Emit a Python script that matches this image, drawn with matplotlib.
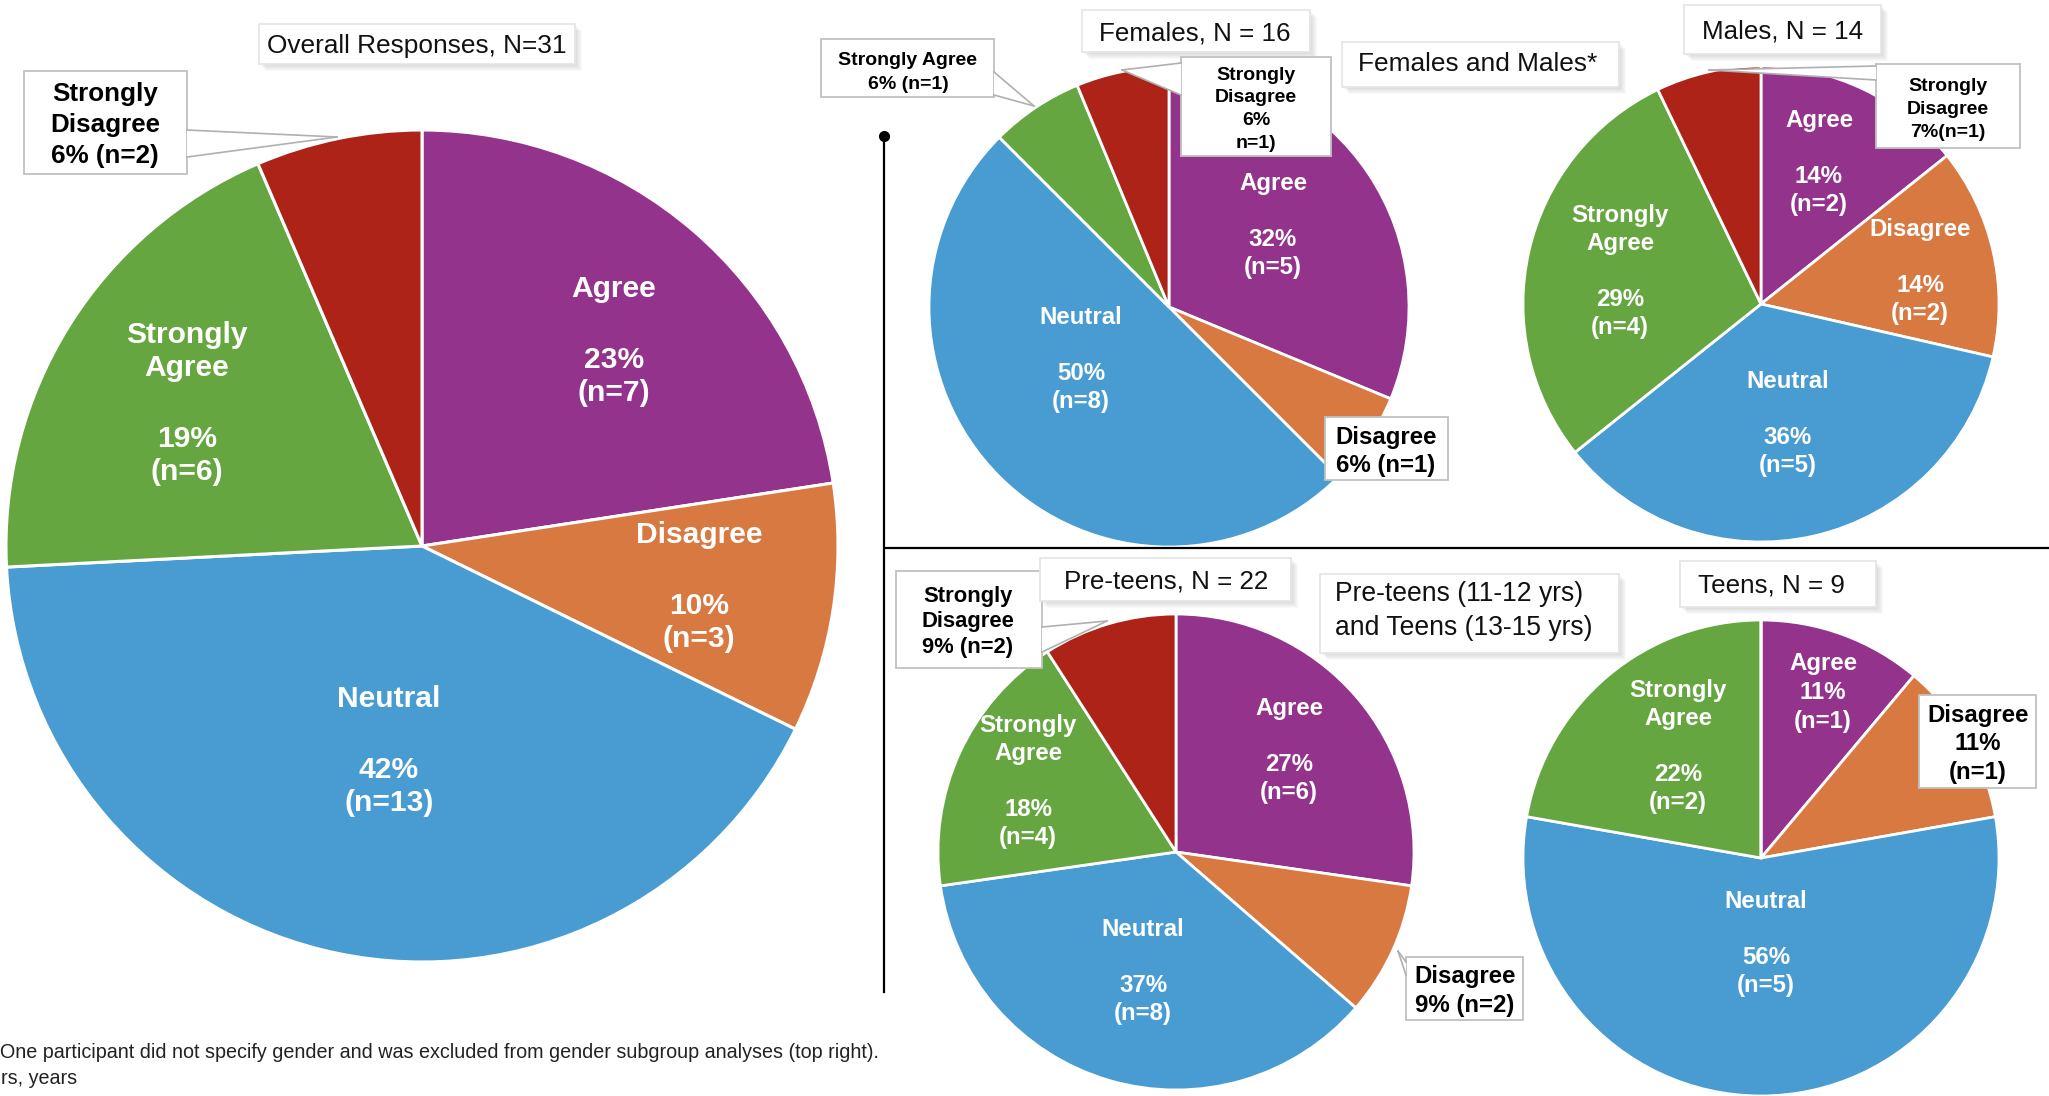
import matplotlib
matplotlib.use("Agg")
import matplotlib.pyplot as plt
from matplotlib.patches import Rectangle, Polygon

W, H = 2049, 1096
DPI = 100

categories = ["Agree", "Disagree", "Neutral", "Strongly Agree", "Strongly Disagree"]
colors = ["#93338C", "#D97942", "#499CD1", "#66A641", "#AE2318"]

overall_n = [7, 3, 13, 6, 2]
overall_pct = ["23%", "10%", "42%", "19%", "6%"]
females_n = [5, 1, 8, 1, 1]
females_pct = ["32%", "6%", "50%", "6%", "6%"]
males_n = [2, 2, 5, 4, 1]
males_pct = ["14%", "14%", "36%", "29%", "7%"]
preteens_n = [6, 2, 8, 4, 2]
preteens_pct = ["27%", "9%", "37%", "18%", "9%"]
teens_n = [1, 1, 5, 2, 0]
teens_pct = ["11%", "11%", "56%", "22%", "0%"]

titles = ["Overall Responses, N=31", "Females, N = 16", "Males, N = 14",
          "Pre-teens, N = 22", "Teens, N = 9"]
group_titles = ["Females and Males*", "Pre-teens (11-12 yrs)\nand Teens (13-15 yrs)"]
footnotes = ["One participant did not specify gender and was excluded from gender subgroup analyses (top right).",
             "rs, years"]

name_lines = {"Agree": ["Agree"], "Disagree": ["Disagree"], "Neutral": ["Neutral"],
              "Strongly Agree": ["Strongly", "Agree"], "Strongly Disagree": ["Strongly", "Disagree"]}

plt.rcParams["font.family"] = ["Liberation Sans", "DejaVu Sans"]

fig = plt.figure(figsize=(W / DPI, H / DPI), dpi=DPI)
ax = fig.add_axes([0, 0, 1, 1])


def Y(y):
    return H - y


def pt(px):
    return px * 72 / DPI


def draw_pie(values, cx, cy, r, lw=2.0):
    ax.pie(values, colors=colors, startangle=90, counterclock=False,
           center=(cx, Y(cy)), radius=r, frame=False,
           wedgeprops=dict(edgecolor="white", linewidth=lw))


def block(x, y, lines, size, color="white", step=28, gap=56, ha="center", weight="bold"):
    yy = y
    first = True
    for s in lines:
        if s == "":
            yy += gap - step
            continue
        if not first:
            yy += step
        ax.text(x, Y(yy), s, ha=ha, va="baseline", fontsize=pt(size),
                color=color, fontweight=weight, zorder=7)
        first = False


def inner(names, i, pct, n, x, y, size=24, step=28, gap=56, blank=True):
    lines = list(name_lines[names[i]])
    if blank:
        lines.append("")
    lines += [pct[i], f"(n={n[i]})"]
    block(x, y, lines, size, step=step, gap=gap)


def box(x0, y0, x1, y1, shadow=False, ec="#C0C0C0"):
    if shadow:
        for k in range(1, 8):
            ax.add_patch(Rectangle((x0 + k, Y(y1) - k), x1 - x0, y1 - y0,
                                   fc="#808080", ec="none", alpha=0.045, zorder=4))
    ax.add_patch(Rectangle((x0, Y(y1)), x1 - x0, y1 - y0, fc="white", ec=ec,
                           lw=1.3, zorder=5))


def pointer(tip, b1, b2):
    pts = [(tip[0], Y(tip[1])), (b1[0], Y(b1[1])), (b2[0], Y(b2[1]))]
    ax.add_patch(Polygon(pts, closed=True, fc="white", ec="none", zorder=5.5))
    for b in (b1, b2):
        ax.plot([b[0], tip[0]], [Y(b[1]), Y(tip[1])], color="#B0B0B0", lw=1.2, zorder=5.6)


def title_box(x0, y0, x1, y1, text, x, y, size=26, ha="center"):
    box(x0, y0, x1, y1, shadow=True, ec="#E6E6E6")
    for i, s in enumerate(text.split("\n")):
        ax.text(x, Y(y + i * 34), s, ha=ha, va="baseline", fontsize=pt(size),
                color="#111111", zorder=7)


# pies
draw_pie(overall_n, 422, 546, 416, lw=2.2)
draw_pie(females_n, 1169, 307, 240)
draw_pie(males_n, 1761, 304, 238)
draw_pie(preteens_n, 1176, 852, 238)
draw_pie(teens_n, 1761, 858, 238)

ax.set_xlim(0, W)
ax.set_ylim(0, H)
ax.set_aspect("auto")
ax.axis("off")

# overall labels
inner(categories, 0, overall_pct, overall_n, 614, 297, size=30, step=33, gap=71)
inner(categories, 1, overall_pct, overall_n, 699, 543, size=30, step=33, gap=71)
inner(categories, 2, overall_pct, overall_n, 389, 707, size=30, step=33, gap=71)
inner(categories, 3, overall_pct, overall_n, 187, 343, size=30, step=33, gap=71)

# females
inner(categories, 0, females_pct, females_n, 1273, 190)
inner(categories, 2, females_pct, females_n, 1081, 324)
# males
inner(categories, 0, males_pct, males_n, 1819, 127)
inner(categories, 1, males_pct, males_n, 1920, 236)
inner(categories, 3, males_pct, males_n, 1620, 222)
inner(categories, 2, males_pct, males_n, 1788, 388)
# pre-teens
inner(categories, 3, preteens_pct, preteens_n, 1028, 732)
inner(categories, 0, preteens_pct, preteens_n, 1289, 715)
inner(categories, 2, preteens_pct, preteens_n, 1143, 936)
# teens
inner(categories, 0, teens_pct, teens_n, 1823, 670, step=29, blank=False)
inner(categories, 3, teens_pct, teens_n, 1678, 697)
inner(categories, 2, teens_pct, teens_n, 1766, 908)

# callout boxes
box(24, 71, 187, 174)
pointer((337, 137), (187, 130), (187, 157))
block(105, 101, ["Strongly", "Disagree", f"{overall_pct[4]} (n={overall_n[4]})"], 26, "black", step=31)

box(821, 39, 994, 97)
pointer((1034, 106), (994, 72), (994, 95))
block(908, 65, ["Strongly Agree", f"{females_pct[3]} (n={females_n[3]})"], 19.5, "black", step=24)

box(1181, 57, 1331, 156)
pointer((1122, 70), (1181, 63), (1181, 95))
block(1256, 80, ["Strongly", "Disagree", females_pct[4], f"n={females_n[4]})"], 19.5, "black", step=22.5)

box(1325, 417, 1448, 480)
block(1386, 444, ["Disagree", f"{females_pct[1]} (n={females_n[1]})"], 24, "black", step=28)

box(1876, 64, 2020, 148)
pointer((1709, 70), (1876, 66), (1876, 80))
block(1948, 91, ["Strongly", "Disagree", f"{males_pct[4]}(n={males_n[4]})"], 19.5, "black", step=23)

box(896, 571, 1042, 668)
pointer((1107, 621), (1042, 627), (1042, 652))
block(968, 602, ["Strongly", "Disagree", f"{preteens_pct[4]} (n={preteens_n[4]})"], 22, "black", step=25.5)

box(1406, 957, 1523, 1020)
pointer((1398, 951), (1406, 962), (1406, 975))
block(1465, 983, ["Disagree", f"{preteens_pct[1]} (n={preteens_n[1]})"], 24, "black", step=29)

box(1919, 695, 2036, 788)
block(1978, 722, ["Disagree", teens_pct[1], f"(n={teens_n[1]})"], 24, "black", step=28.5)

# titles
title_box(259, 24, 575, 64, titles[0], 417, 53, size=26.3)
title_box(1082, 10, 1310, 52, titles[1], 1195, 41)
title_box(1684, 5, 1881, 54, titles[2], 1783, 38)
title_box(1040, 558, 1291, 601, titles[3], 1166, 588)
title_box(1680, 561, 1876, 607, titles[4], 1771, 592)
title_box(1342, 42, 1619, 87, group_titles[0], 1478, 71, size=26.3)
title_box(1320, 574, 1619, 653, group_titles[1], 1335, 601, size=26.5, ha="left")

# dividers
ax.plot([884, 884], [Y(136), Y(992)], color="black", lw=1.6, zorder=3)
ax.plot([884], [Y(136)], marker="o", color="black", markersize=7, zorder=3)
ax.plot([886, W], [Y(548), Y(548)], color="black", lw=1.6, zorder=3)

# footnote
ax.text(0, Y(1058), footnotes[0], ha="left", va="baseline", fontsize=pt(19.8), color="#222222")
ax.text(1, Y(1084), footnotes[1], ha="left", va="baseline", fontsize=pt(19.8), color="#222222")

fig.savefig("out.png", dpi=DPI, facecolor="white")
